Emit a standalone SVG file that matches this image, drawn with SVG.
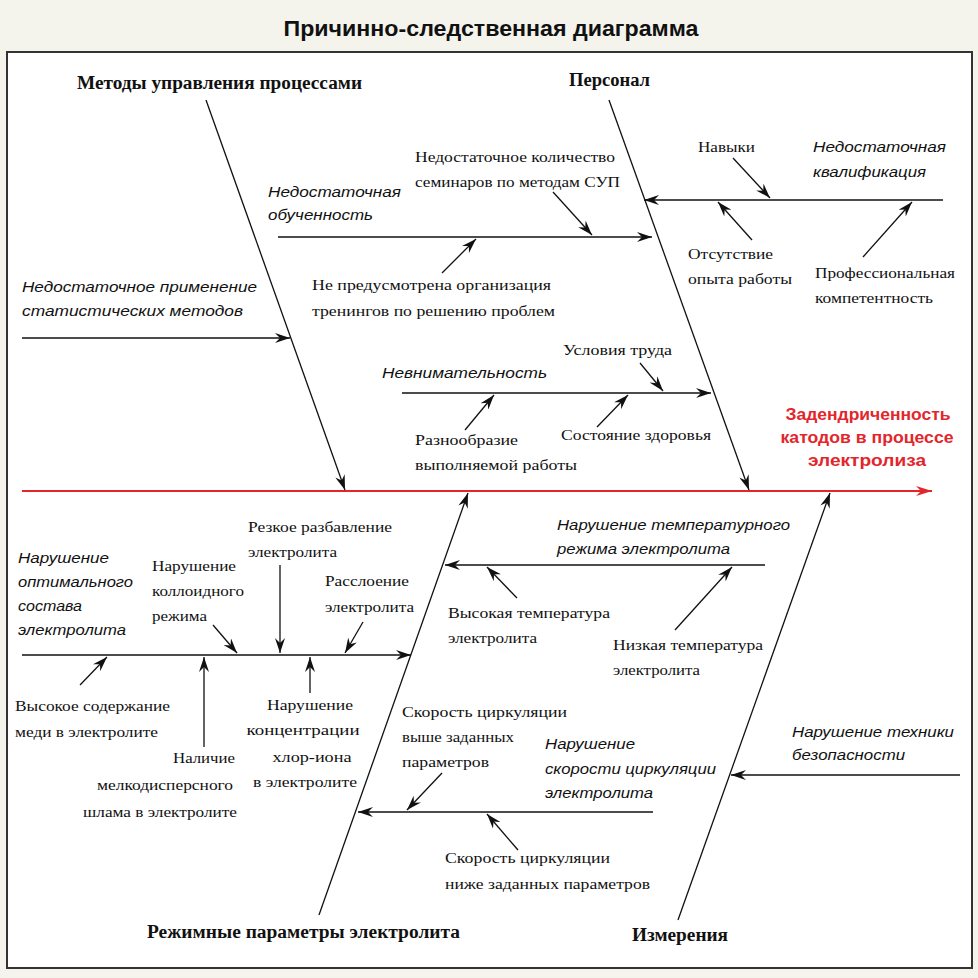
<svg xmlns="http://www.w3.org/2000/svg" width="978" height="978" viewBox="0 0 978 978">
<defs>
<marker id="ah" viewBox="0 0 15 10" refX="15" refY="5" markerWidth="15" markerHeight="10" orient="auto" markerUnits="userSpaceOnUse"><path d="M0,0 L15,5 L0,10 L5,5 z" fill="#111"/></marker>
<marker id="ahr" viewBox="0 0 16 10" refX="16" refY="5" markerWidth="16" markerHeight="10" orient="auto" markerUnits="userSpaceOnUse"><path d="M0,0 L16,5 L0,10 L5,5 z" fill="#e3262b"/></marker>
</defs>
<style>
.s{font-family:"Liberation Serif","Times New Roman",serif;font-size:15px;fill:#111}
.i{font-family:"Liberation Sans",Arial,sans-serif;font-style:italic;font-size:15px;fill:#111}
.b{font-family:"Liberation Serif","Times New Roman",serif;font-weight:bold;font-size:18px;fill:#111}
.r{font-family:"Liberation Sans",Arial,sans-serif;font-weight:bold;font-size:17px;fill:#e3262b;text-anchor:middle}
.t{font-family:"Liberation Sans",Arial,sans-serif;font-weight:bold;font-size:22px;fill:#111;text-anchor:middle}
.c line{stroke:#111;stroke-width:1.3;marker-end:url(#ah)}
</style>
<rect x="0" y="0" width="978" height="978" fill="#f4f3ec"/>
<rect x="7" y="52" width="965" height="916" fill="#fff" stroke="#333" stroke-width="2"/>
<text class="t" x="491" y="36" textLength="415" lengthAdjust="spacingAndGlyphs">Причинно-следственная диаграмма</text>

<g class="c" id="connectors">
<line x1="22" y1="491" x2="932" y2="491" style="stroke:#e3262b;stroke-width:2;marker-end:url(#ahr)"/>
<line x1="206" y1="100" x2="345" y2="490"/>
<line x1="609" y1="100" x2="749" y2="490"/>
<line x1="319" y1="915" x2="468" y2="493"/>
<line x1="678" y1="920" x2="830" y2="493"/>
<line x1="278" y1="237" x2="652" y2="237"/>
<line x1="943" y1="200" x2="644" y2="200"/>
<line x1="22" y1="338" x2="290" y2="338"/>
<line x1="402" y1="393" x2="711" y2="393"/>
<line x1="22" y1="655" x2="411" y2="655"/>
<line x1="765" y1="565" x2="445" y2="565"/>
<line x1="653" y1="812" x2="358" y2="812"/>
<line x1="960" y1="775" x2="731" y2="775"/>
<line x1="553" y1="192" x2="592" y2="235"/>
<line x1="442" y1="273" x2="476" y2="239"/>
<line x1="733" y1="158" x2="770" y2="198"/>
<line x1="752" y1="240" x2="718" y2="202"/>
<line x1="863" y1="257" x2="912" y2="202"/>
<line x1="640" y1="363" x2="663" y2="391"/>
<line x1="465" y1="430" x2="494" y2="395"/>
<line x1="597" y1="427" x2="628" y2="395"/>
<line x1="280" y1="565" x2="280" y2="653"/>
<line x1="213" y1="625" x2="237" y2="653"/>
<line x1="363" y1="622" x2="345" y2="653"/>
<line x1="80" y1="685" x2="107" y2="657"/>
<line x1="204" y1="747" x2="204" y2="657"/>
<line x1="310" y1="693" x2="310" y2="657"/>
<line x1="517" y1="598" x2="487" y2="567"/>
<line x1="675" y1="630" x2="732" y2="567"/>
<line x1="442" y1="773" x2="407" y2="810"/>
<line x1="518" y1="850" x2="487" y2="814"/>
</g>

<g id="effect">
<text class="r" x="868" y="420" textLength="165" lengthAdjust="spacingAndGlyphs">Задендриченность</text>
<text class="r" x="867" y="443" textLength="173" lengthAdjust="spacingAndGlyphs">катодов в процессе</text>
<text class="r" x="867" y="466" textLength="118" lengthAdjust="spacingAndGlyphs">электролиза</text>
</g>

<g id="cat-methods"><text class="b" x="77" y="89" textLength="285" lengthAdjust="spacingAndGlyphs">Методы управления процессами</text></g>
<g id="cat-personnel"><text class="b" x="569" y="86" textLength="81" lengthAdjust="spacingAndGlyphs">Персонал</text></g>
<g id="cat-regime"><text class="b" x="147" y="938" textLength="313" lengthAdjust="spacingAndGlyphs">Режимные параметры электролита</text></g>
<g id="cat-measure"><text class="b" x="632" y="941" textLength="96" lengthAdjust="spacingAndGlyphs">Измерения</text></g>

<g id="n-seminars">
<text class="s" x="415" y="162" textLength="200" lengthAdjust="spacingAndGlyphs">Недостаточное количество</text>
<text class="s" x="415" y="187" textLength="205" lengthAdjust="spacingAndGlyphs">семинаров по методам СУП</text>
</g>
<g id="n-training">
<text class="i" x="268" y="197" textLength="133" lengthAdjust="spacingAndGlyphs">Недостаточная</text>
<text class="i" x="268" y="220" textLength="105" lengthAdjust="spacingAndGlyphs">обученность</text>
</g>
<g id="n-trainings">
<text class="s" x="312" y="290" textLength="239" lengthAdjust="spacingAndGlyphs">Не предусмотрена организация</text>
<text class="s" x="312" y="316" textLength="243" lengthAdjust="spacingAndGlyphs">тренингов по решению проблем</text>
</g>
<g id="n-skills"><text class="s" x="698" y="152" textLength="57" lengthAdjust="spacingAndGlyphs">Навыки</text></g>
<g id="n-qualif">
<text class="i" x="813" y="152" textLength="133" lengthAdjust="spacingAndGlyphs">Недостаточная</text>
<text class="i" x="813" y="177" textLength="113" lengthAdjust="spacingAndGlyphs">квалификация</text>
</g>
<g id="n-experience">
<text class="s" x="688" y="259" textLength="85" lengthAdjust="spacingAndGlyphs">Отсутствие</text>
<text class="s" x="688" y="284" textLength="104" lengthAdjust="spacingAndGlyphs">опыта работы</text>
</g>
<g id="n-competence">
<text class="s" x="815" y="278" textLength="140" lengthAdjust="spacingAndGlyphs">Профессиональная</text>
<text class="s" x="815" y="303" textLength="118" lengthAdjust="spacingAndGlyphs">компетентность</text>
</g>
<g id="n-stat">
<text class="i" x="22" y="292" textLength="235" lengthAdjust="spacingAndGlyphs">Недостаточное применение</text>
<text class="i" x="22" y="316" textLength="221" lengthAdjust="spacingAndGlyphs">статистических методов</text>
</g>
<g id="n-conditions"><text class="s" x="563" y="355" textLength="109" lengthAdjust="spacingAndGlyphs">Условия труда</text></g>
<g id="n-inattention"><text class="i" x="382" y="378" textLength="165" lengthAdjust="spacingAndGlyphs">Невнимательность</text></g>
<g id="n-variety">
<text class="s" x="415" y="445" textLength="103" lengthAdjust="spacingAndGlyphs">Разнообразие</text>
<text class="s" x="415" y="470" textLength="162" lengthAdjust="spacingAndGlyphs">выполняемой работы</text>
</g>
<g id="n-health"><text class="s" x="561" y="440" textLength="150" lengthAdjust="spacingAndGlyphs">Состояние здоровья</text></g>

<g id="n-dilution">
<text class="s" x="248" y="532" textLength="144" lengthAdjust="spacingAndGlyphs">Резкое разбавление</text>
<text class="s" x="248" y="557" textLength="89" lengthAdjust="spacingAndGlyphs">электролита</text>
</g>
<g id="n-composition">
<text class="i" x="18" y="563" textLength="91" lengthAdjust="spacingAndGlyphs">Нарушение</text>
<text class="i" x="18" y="587" textLength="115" lengthAdjust="spacingAndGlyphs">оптимального</text>
<text class="i" x="18" y="611" textLength="64" lengthAdjust="spacingAndGlyphs">состава</text>
<text class="i" x="18" y="635" textLength="108" lengthAdjust="spacingAndGlyphs">электролита</text>
</g>
<g id="n-colloid">
<text class="s" x="152" y="571" textLength="84" lengthAdjust="spacingAndGlyphs">Нарушение</text>
<text class="s" x="152" y="596" textLength="92" lengthAdjust="spacingAndGlyphs">коллоидного</text>
<text class="s" x="152" y="621" textLength="55" lengthAdjust="spacingAndGlyphs">режима</text>
</g>
<g id="n-stratification">
<text class="s" x="325" y="586" textLength="84" lengthAdjust="spacingAndGlyphs">Расслоение</text>
<text class="s" x="325" y="612" textLength="89" lengthAdjust="spacingAndGlyphs">электролита</text>
</g>
<g id="n-copper">
<text class="s" x="15" y="711" textLength="155" lengthAdjust="spacingAndGlyphs">Высокое содержание</text>
<text class="s" x="15" y="737" textLength="143" lengthAdjust="spacingAndGlyphs">меди в электролите</text>
</g>
<g id="n-sludge" style="text-anchor:end">
<text class="s" x="235" y="763" textLength="62" lengthAdjust="spacingAndGlyphs">Наличие</text>
<text class="s" x="233" y="790" textLength="136" lengthAdjust="spacingAndGlyphs">мелкодисперсного</text>
<text class="s" x="237" y="817" textLength="154" lengthAdjust="spacingAndGlyphs">шлама в электролите</text>
</g>
<g id="n-chloride" style="text-anchor:middle">
<text class="s" x="310" y="710" textLength="86" lengthAdjust="spacingAndGlyphs">Нарушение</text>
<text class="s" x="303" y="735" textLength="113" lengthAdjust="spacingAndGlyphs">концентрации</text>
<text class="s" x="312" y="762" textLength="79" lengthAdjust="spacingAndGlyphs">хлор-иона</text>
<text class="s" x="305" y="787" textLength="104" lengthAdjust="spacingAndGlyphs">в электролите</text>
</g>
<g id="n-temp">
<text class="i" x="557" y="530" textLength="233" lengthAdjust="spacingAndGlyphs">Нарушение температурного</text>
<text class="i" x="557" y="554" textLength="173" lengthAdjust="spacingAndGlyphs">режима электролита</text>
</g>
<g id="n-hightemp">
<text class="s" x="448" y="618" textLength="162" lengthAdjust="spacingAndGlyphs">Высокая температура</text>
<text class="s" x="448" y="643" textLength="89" lengthAdjust="spacingAndGlyphs">электролита</text>
</g>
<g id="n-lowtemp">
<text class="s" x="613" y="650" textLength="150" lengthAdjust="spacingAndGlyphs">Низкая температура</text>
<text class="s" x="613" y="675" textLength="87" lengthAdjust="spacingAndGlyphs">электролита</text>
</g>
<g id="n-circhigh">
<text class="s" x="402" y="717" textLength="165" lengthAdjust="spacingAndGlyphs">Скорость циркуляции</text>
<text class="s" x="402" y="742" textLength="112" lengthAdjust="spacingAndGlyphs">выше заданных</text>
<text class="s" x="402" y="767" textLength="87" lengthAdjust="spacingAndGlyphs">параметров</text>
</g>
<g id="n-circ">
<text class="i" x="545" y="749" textLength="90" lengthAdjust="spacingAndGlyphs">Нарушение</text>
<text class="i" x="545" y="774" textLength="171" lengthAdjust="spacingAndGlyphs">скорости циркуляции</text>
<text class="i" x="545" y="798" textLength="108" lengthAdjust="spacingAndGlyphs">электролита</text>
</g>
<g id="n-circlow">
<text class="s" x="445" y="863" textLength="165" lengthAdjust="spacingAndGlyphs">Скорость циркуляции</text>
<text class="s" x="445" y="889" textLength="205" lengthAdjust="spacingAndGlyphs">ниже заданных параметров</text>
</g>
<g id="n-safety">
<text class="i" x="792" y="737" textLength="162" lengthAdjust="spacingAndGlyphs">Нарушение техники</text>
<text class="i" x="792" y="760" textLength="113" lengthAdjust="spacingAndGlyphs">безопасности</text>
</g>
</svg>
